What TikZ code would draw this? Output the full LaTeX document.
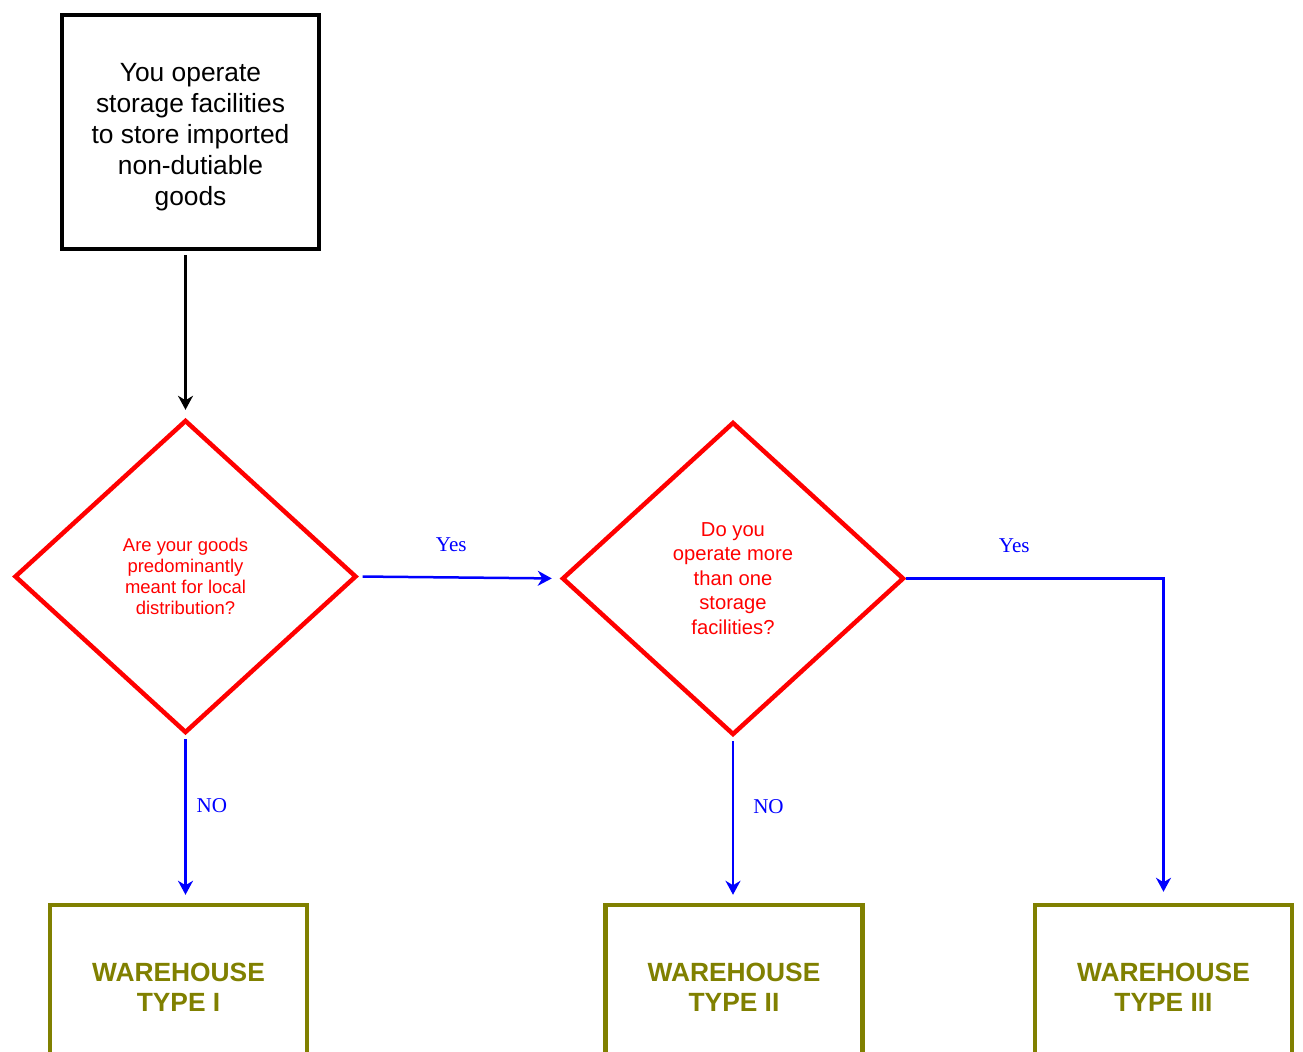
\documentclass[tikz,border=0pt]{standalone}
\usepackage{fontspec}
\setmainfont{Liberation Sans}
\newfontfamily\labelfont{Liberation Serif}
\usepackage{xcolor}
\usepackage{tikz}
\usetikzlibrary{arrows.meta,shapes.geometric}

\definecolor{boxolive}{HTML}{808000}

\begin{document}
\begin{tikzpicture}[x=0.02cm,y=-0.02cm,inner sep=0pt,
  startbox/.style={draw=black,line width=0.09cm,minimum width=5.14cm,minimum height=4.68cm,align=center,font=\fontsize{15}{17.6}\selectfont},
  decision/.style={diamond,draw=red,line width=0.09cm,minimum width=6.84cm,minimum height=6.26cm,align=center,text=red},
  result/.style={draw=boxolive,line width=0.09cm,minimum width=5.14cm,minimum height=3.28cm,align=center,text=boxolive,font=\fontsize{15}{17}\selectfont\bfseries},
  flow/.style={-{Stealth[length=0.28cm,width=0.3cm,inset=0.09cm]},line width=0.05cm,shorten <=0.08cm,shorten >=0.16cm},
  answer/.style={text=blue,font=\labelfont\fontsize{12}{14}\selectfont}]
\useasboundingbox (0,0) rectangle (1303,1052);

\node[startbox] (S) at (190.5,132) {\rule{0pt}{0.58cm}You operate\\storage facilities\\to store imported\\non-dutiable\\goods};
\node[decision,font=\fontsize{10.5}{12}\selectfont] (D1) at (185.5,576.5) {Are your goods\\predominantly\\meant for local\\distribution?};
\node[decision,font=\fontsize{11.5}{14}\selectfont] (D2) at (733,578.5) {Do you\\operate more\\than one\\storage\\facilities?};
\node[result] (W1) at (178.5,987) {WAREHOUSE\\TYPE I};
\node[result] (W2) at (734,987) {WAREHOUSE\\TYPE II};
\node[result] (W3) at (1163.5,987) {WAREHOUSE\\TYPE III};

\draw[flow,black] (S.south -| D1.north) -- (D1.north);
\draw[flow,blue] (D1.east) -- node[answer,above=0.5cm,xshift=-0.16cm] (Y1) {Yes} (D2.west);
\draw[flow,blue] (D1.south) -- node[answer,pos=0.42,right=0.2cm] (N1) {NO} (D1.south |- W1.north);
\draw[flow,blue] (D2.south) -- node[answer,pos=0.42,right=0.38cm] (N2) {NO} (D2.south |- W2.north);
\draw[flow,blue,shorten <=0pt,shorten >=0.22cm] (D2.east) -| node[answer,pos=0.21,above=0.5cm] (Y2) {Yes} (W3.north);

\end{tikzpicture}
\end{document}
